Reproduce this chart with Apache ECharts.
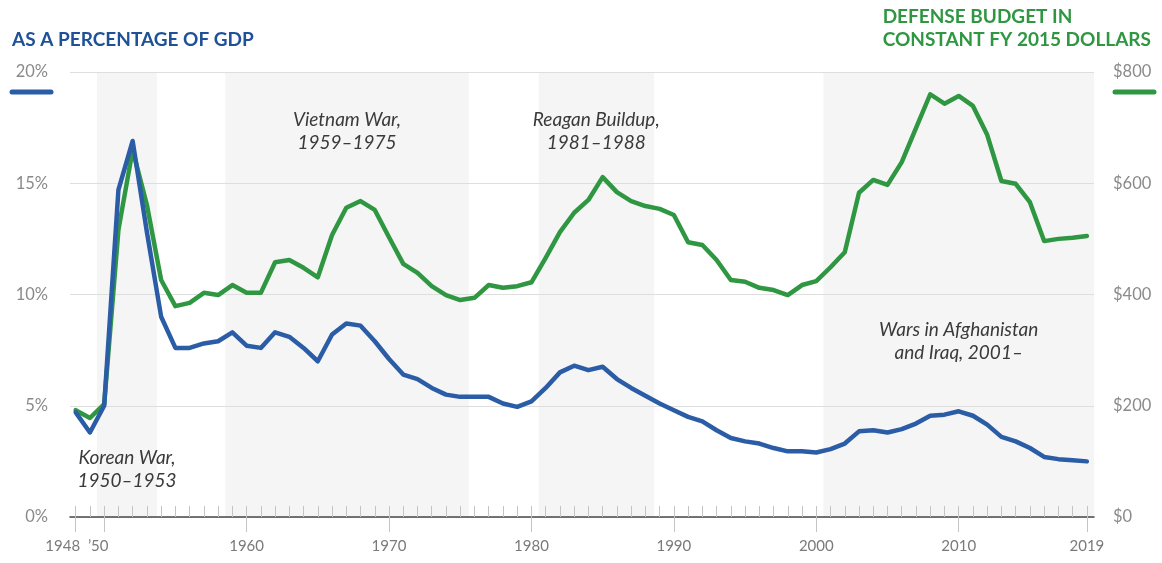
<!DOCTYPE html>
<html>
<head>
<meta charset="utf-8">
<script src="https://cdn.jsdelivr.net/npm/echarts@6/dist/echarts.min.js"></script>
<style>
  html, body { margin: 0; padding: 0; background: #ffffff; }
  #chart { width: 1162px; height: 563px; }
</style>
</head>
<body>
<div id="chart"></div>
<script>
// Fiscal years plotted
const years = [
  1948, 1949, 1950, 1951, 1952, 1953, 1954, 1955, 1956, 1957,
  1958, 1959, 1960, 1961, 1962, 1963, 1964, 1965, 1966, 1967,
  1968, 1969, 1970, 1971, 1972, 1973, 1974, 1975, 1976, 1977,
  1978, 1979, 1980, 1981, 1982, 1983, 1984, 1985, 1986, 1987,
  1988, 1989, 1990, 1991, 1992, 1993, 1994, 1995, 1996, 1997,
  1998, 1999, 2000, 2001, 2002, 2003, 2004, 2005, 2006, 2007,
  2008, 2009, 2010, 2011, 2012, 2013, 2014, 2015, 2016, 2017,
  2018, 2019
];

// Defense spending as a share of GDP (%)
const pctGdp = [
  4.7, 3.8, 5.0, 14.7, 16.9, 12.8, 9.0, 7.6, 7.6, 7.8,
  7.9, 8.3, 7.7, 7.6, 8.3, 8.1, 7.6, 7.0, 8.2, 8.7,
  8.6, 7.9, 7.1, 6.4, 6.2, 5.8, 5.5, 5.4, 5.4, 5.4,
  5.1, 4.95, 5.2, 5.8, 6.5, 6.8, 6.6, 6.75, 6.2, 5.8,
  5.45, 5.1, 4.8, 4.5, 4.3, 3.9, 3.55, 3.4, 3.3, 3.1,
  2.95, 2.95, 2.9, 3.05, 3.3, 3.85, 3.9, 3.8, 3.95, 4.2,
  4.55, 4.6, 4.75, 4.55, 4.15, 3.6, 3.4, 3.1, 2.7, 2.6,
  2.55, 2.5
];

// Defense budget, billions of constant FY 2015 dollars
const budget = [
  192, 178, 203, 516, 660, 561, 426, 379, 385, 403,
  399, 417, 403, 403, 458, 462, 448, 431, 507, 556,
  568, 552, 503, 455, 439, 415, 399, 390, 394, 417,
  412, 415, 422, 466, 512, 547, 570, 611, 584, 568,
  559, 554, 543, 494, 489, 462, 426, 423, 412, 408,
  399, 417, 424, 449, 476, 583, 606, 597, 638, 699,
  760, 743, 757, 739, 687, 604, 599, 566, 496, 500,
  502, 505
];

// Labelled years on the x axis
const labelYears = [1948, 1950, 1960, 1970, 1980, 1990, 2000, 2010, 2019];

// Conflict periods shaded behind the lines
const conflicts = [
  { name: 'Korean War,\n1950\u20131953', from: 1949.5, to: 1953.7 },
  { name: 'Vietnam War,\n1959\u20131975', from: 1958.5, to: 1975.6 },
  { name: 'Reagan Buildup,\n1981\u20131988', from: 1980.5, to: 1988.6 },
  { name: 'Wars in Afghanistan\nand Iraq, 2001\u2013', from: 2000.5, to: 2019.5 }
];
const conflictLabelOffsets = [[0, 369], [0, 31], [0, 31], [0, 241]];

const BLUE = '#2b5ca6';
const GREEN = '#2f9642';
const FONT = 'Lato, "Noto Sans", sans-serif';

const chart = echarts.init(document.getElementById('chart'), null, { renderer: 'canvas' });

const xMin = 1947.6, xMax = 2019.5;

const option = {
  animation: false,
  grid: { left: 70, right: 68, top: 72, bottom: 46, containLabel: false },
  xAxis: [
    {
      type: 'value', min: xMin, max: xMax, z: 2,
      axisLine: { show: true, onZero: false, lineStyle: { color: '#4a4a4a', width: 1.6 } },
      axisTick: { show: true, inside: true, length: 11, customValues: years, lineStyle: { color: '#c4c4c4', width: 1 } },
      axisLabel: {
        customValues: labelYears, margin: 22, color: '#7a7a7a', fontSize: 15, fontFamily: FONT,
        formatter: function (v) {
          if (v === 1948) return '{l48|1948}';
          if (v === 1950) return '{l50|\u201950}';
          return String(v);
        },
        rich: {
          l48: { fontSize: 15, color: '#7a7a7a', fontFamily: FONT, padding: [0, 26, 0, 0] },
          l50: { fontSize: 15, color: '#7a7a7a', fontFamily: FONT, padding: [0, 12, 0, 0] }
        }
      },
      splitLine: { show: false }
    },
    {
      type: 'value', min: xMin, max: xMax, position: 'bottom', offset: 0, z: 2,
      axisLine: { show: false },
      axisTick: { show: true, inside: false, length: 15, customValues: labelYears, lineStyle: { color: '#c4c4c4', width: 1 } },
      axisLabel: { show: false },
      splitLine: { show: false }
    }
  ],
  yAxis: [
    {
      type: 'value', min: 0, max: 20, interval: 5, position: 'left', z: 2,
      axisLine: { show: false }, axisTick: { show: false },
      axisLabel: { formatter: '{value}%', color: '#8a8a8a', fontSize: 16.5, fontFamily: FONT, margin: 22 },
      splitLine: { show: true, lineStyle: { color: '#dedede', width: 1.2 } }
    },
    {
      type: 'value', min: 0, max: 800, interval: 200, position: 'right', z: 2,
      axisLine: { show: false }, axisTick: { show: false },
      axisLabel: { formatter: '${value}', color: '#8a8a8a', fontSize: 16.5, fontFamily: FONT, margin: 19 },
      splitLine: { show: false }
    }
  ],
  series: [
    {
      name: 'Defense budget',
      type: 'line', xAxisIndex: 0, yAxisIndex: 1,
      data: years.map((y, i) => [y, budget[i]]),
      symbol: 'none', smooth: false,
      lineStyle: { color: GREEN, width: 4.5, join: 'round', cap: 'round' },
      z: 3,
      markArea: {
        silent: true, z: 1,
        itemStyle: { color: '#f5f5f5' },
        label: {
          show: true, position: 'insideTop', color: '#3a3a3a', fontSize: 19, fontStyle: 'italic',
          fontFamily: FONT, lineHeight: 23, align: 'center'
        },
        data: conflicts.map((c, i) => [
          { name: c.name, xAxis: c.from, label: { offset: conflictLabelOffsets[i] } },
          { xAxis: c.to }
        ])
      }
    },
    {
      name: 'Share of GDP',
      type: 'line', xAxisIndex: 0, yAxisIndex: 0,
      data: years.map((y, i) => [y, pctGdp[i]]),
      symbol: 'none', smooth: false,
      lineStyle: { color: BLUE, width: 4.5, join: 'round', cap: 'round' },
      z: 4
    }
  ],
  graphic: [
    {
      type: 'text', left: 12, top: 30,
      style: { text: 'AS A PERCENTAGE OF GDP', fill: '#1f5197', font: 'bold 19px ' + FONT }
    },
    {
      type: 'text', right: 11, top: 5,
      style: { text: 'DEFENSE BUDGET IN\nCONSTANT FY 2015 DOLLARS', fill: '#2f9642', font: 'bold 19px ' + FONT, align: 'right', lineHeight: 23 }
    },
    {
      type: 'line', shape: { x1: 12, y1: 92, x2: 51, y2: 92 },
      style: { stroke: BLUE, lineWidth: 5, lineCap: 'round' }
    },
    {
      type: 'line', shape: { x1: 1115, y1: 92, x2: 1154, y2: 92 },
      style: { stroke: GREEN, lineWidth: 5, lineCap: 'round' }
    }
  ]
};

chart.setOption(option);
</script>
</body>
</html>
